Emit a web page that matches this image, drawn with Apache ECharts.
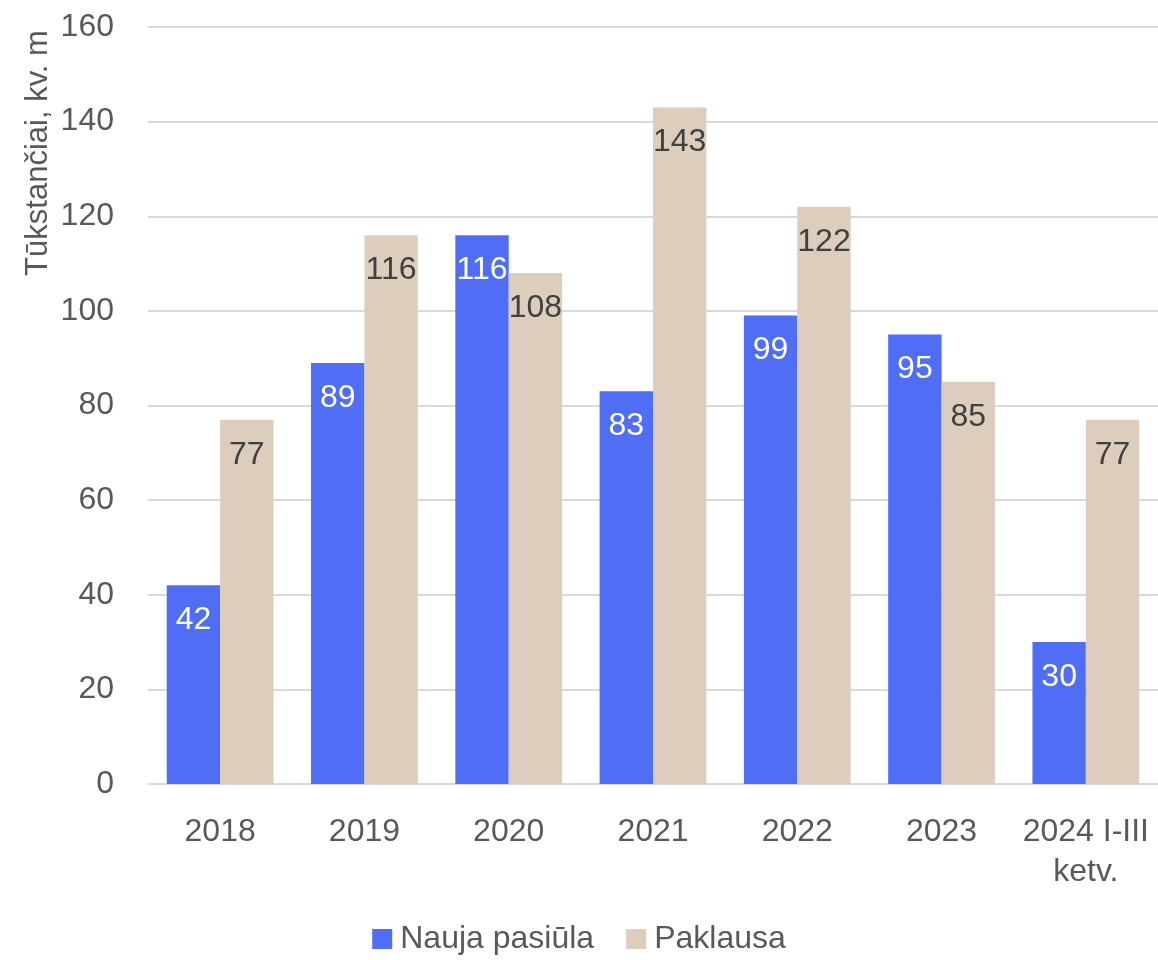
<!DOCTYPE html>
<html>
<head>
<meta charset="utf-8">
<script src="https://cdn.jsdelivr.net/npm/echarts@6/dist/echarts.min.js"></script>
<style>
  html, body { margin: 0; padding: 0; background: #fff; }
  #main { width: 1158px; height: 960px; }
</style>
</head>
<body>
<div id="main"></div>
<script>
var categories = ['2018', '2019', '2020', '2021', '2022', '2023', '2024 I-III\nketv.'];
var naujaPasiula = [42, 89, 116, 83, 99, 95, 30];
var paklausa = [77, 116, 108, 143, 122, 85, 77];
var yTicks = { min: 0, max: 160, interval: 20 };

var font = '"Liberation Sans Narrow", "Arial Narrow", "Liberation Sans", Arial, sans-serif';
var chart = echarts.init(document.getElementById('main'));

var option = {
    animation: false,
    textStyle: { fontFamily: font },
    grid: { left: 148, top: 27, width: 1019, height: 757 },
    legend: {
        top: 918,
        left: 'center',
        itemWidth: 20,
        itemHeight: 20,
        itemGap: 32,
        icon: 'rect',
        textStyle: { fontFamily: font, fontSize: 32, color: '#595959', padding: [0, 0, 0, 3] },
        data: ['Nauja pasiūla', 'Paklausa']
    },
    xAxis: {
        type: 'category',
        data: categories,
        axisTick: { show: false },
        axisLine: { lineStyle: { color: '#d9d9d9', width: 2 } },
        axisLabel: { interval: 0, fontFamily: font, fontSize: 32, color: '#595959', margin: 28, lineHeight: 40 }
    },
    yAxis: {
        type: 'value',
        min: yTicks.min,
        max: yTicks.max,
        interval: yTicks.interval,
        axisLine: { show: false },
        axisTick: { show: false },
        splitLine: { lineStyle: { color: '#d9d9d9', width: 2 } },
        axisLabel: { fontFamily: font, fontSize: 32, color: '#595959', margin: 34 }
    },
    graphic: [{
        type: 'text',
        x: 38,
        y: 153,
        rotation: Math.PI / 2,
        style: {
            text: 'Tūkstančiai, kv. m',
            fontFamily: font,
            fontSize: 31,
            fill: '#595959',
            align: 'center',
            verticalAlign: 'middle'
        }
    }],
    series: [
        {
            name: 'Nauja pasiūla',
            type: 'bar',
            data: naujaPasiula,
            barGap: '0%',
            barCategoryGap: '26%',
            itemStyle: { color: '#4f6df5' },
            label: {
                show: true,
                position: 'insideTop',
                distance: 19,
                fontFamily: font,
                fontSize: 32,
                color: '#ffffff'
            }
        },
        {
            name: 'Paklausa',
            type: 'bar',
            data: paklausa,
            barGap: '0%',
            barCategoryGap: '26%',
            itemStyle: { color: '#ddcdbd' },
            label: {
                show: true,
                position: 'insideTop',
                distance: 19,
                fontFamily: font,
                fontSize: 32,
                color: '#404040'
            }
        }
    ]
};

chart.setOption(option);
</script>
</body>
</html>
